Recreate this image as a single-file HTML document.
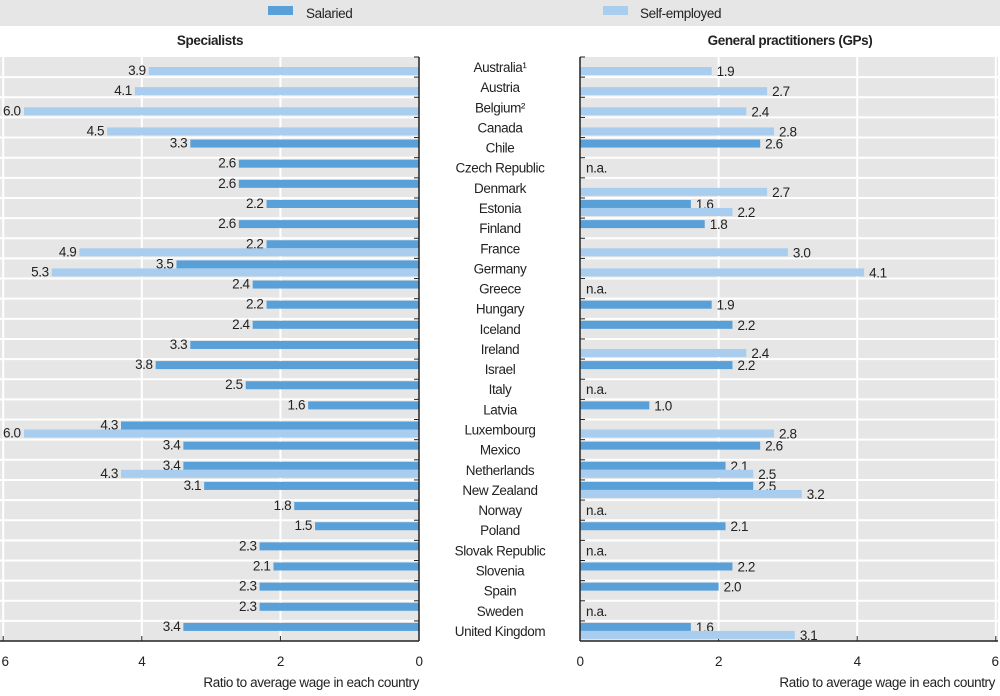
<!DOCTYPE html>
<html><head><meta charset="utf-8"><style>
body{margin:0;background:#fff;width:1000px;height:691px;overflow:hidden;font-family:"Liberation Sans",sans-serif;}
svg text{font-family:"Liberation Sans",sans-serif;font-size:13.5px;letter-spacing:-0.4px;fill:#222;}
</style></head><body>
<svg id="chart" width="1000" height="691">
<rect x="0" y="0" width="1000" height="26" fill="#e6e6e6"/>
<g><rect x="268" y="6" width="25" height="9" fill="#5aa0d8"/><text x="306" y="18">Salaried</text></g>
<g><rect x="603" y="6" width="25" height="9" fill="#a9cdee"/><text x="640" y="18">Self-employed</text></g>
<text x="210" y="45" text-anchor="middle" font-weight="bold">Specialists</text>
<text x="790" y="45" text-anchor="middle" font-weight="bold">General practitioners (GPs)</text>
<g id="left"></g>
<g id="right"></g>
<g id="labels"></g>
</svg>
<script>
const countries=["Australia¹","Austria","Belgium²","Canada","Chile","Czech Republic","Denmark","Estonia","Finland","France","Germany","Greece","Hungary","Iceland","Ireland","Israel","Italy","Latvia","Luxembourg","Mexico","Netherlands","New Zealand","Norway","Poland","Slovak Republic","Slovenia","Spain","Sweden","United Kingdom"];
const specSalaried=[null,null,null,null,3.3,2.6,2.6,2.2,2.6,2.2,3.5,2.4,2.2,2.4,3.3,3.8,2.5,1.6,4.3,3.4,3.4,3.1,1.8,1.5,2.3,2.1,2.3,2.3,3.4];
const specSelf=[3.9,4.1,6.0,4.5,null,null,null,null,null,4.9,5.3,null,null,null,null,null,null,null,6.0,null,4.3,null,null,null,null,null,null,null,null];
const gpSalaried=[null,null,null,null,2.6,null,null,1.6,1.8,null,null,null,1.9,2.2,null,2.2,null,1.0,null,2.6,2.1,2.5,null,2.1,null,2.2,2.0,null,1.6];
const gpSelf=[1.9,2.7,2.4,2.8,null,null,2.7,2.2,null,3.0,4.1,null,null,null,2.4,null,null,null,2.8,null,2.5,3.2,null,null,null,null,null,null,3.1];
const ticks=[0,2,4,6];
const NS="http://www.w3.org/2000/svg";
const top0=57,rowH=20.14,axisY=641,unit=69.3;
const rowY=i=>top0+i*rowH;
const lx=v=>419-v*unit;
const rx=v=>580+v*unit;
function mk(p,tag,a,txt){const e=document.createElementNS(NS,tag);for(const k in a)e.setAttribute(k,a[k]);if(txt!==undefined)e.textContent=txt;p.appendChild(e);return e;}
function panel(g,x0,x1,sx,sal,self,left,nm){
  const bg=mk(g,'rect',{x:Math.min(x0,x1),y:top0,width:Math.abs(x1-x0),height:axisY-top0,fill:'#e6e6e6'});
  
  
  ticks.forEach(t=>{if(t>0){const l=mk(g,'line',{x1:sx(t),x2:sx(t),y1:top0,y2:axisY,stroke:'#fff','stroke-width':2});
    
    }
    const tx=Math.min(Math.max(sx(t),5),995);
    const tl=mk(g,'text',{x:tx,y:666,'text-anchor':'middle'},String(t));
    
    
    const tk=mk(g,'line',{x1:sx(t),x2:sx(t),y1:axisY-5,y2:axisY,stroke:'#222'});
    
    });
  for(let i=1;i<countries.length;i++){const l=mk(g,'line',{x1:Math.min(x0,x1),x2:Math.max(x0,x1),y1:rowY(i),y2:rowY(i),stroke:'#fff','stroke-width':2});
    
    }
  countries.forEach((c,i)=>{
    const y=rowY(i);
    [[sal[i],y+2,'#5aa0d8','salaried'],[self[i],y+10,'#a9cdee','self-employed']].forEach(([v,by,col,kind])=>{
      if(v===null)return;
      let x=sx(v);
      let clip=false;
      if(left&&x<26){x=24;clip=true;}
      const b=mk(g,'rect',{x:Math.min(x,sx(0)),y:by,width:Math.abs(x-sx(0)),height:8,fill:col});
      
      
      const t=mk(g,'text',clip?{x:3,y:by+8}:(left?{x:x-3,y:by+8,'text-anchor':'end'}:{x:x+5,y:by+9}),v.toFixed(1));
      
      
    });
    if(sal[i]===null&&self[i]===null){
      const t=mk(g,'text',left?{x:sx(0)-4,y:y+15,'text-anchor':'end'}:{x:sx(0)+6,y:y+15},'n.a.');
      
      
    }
    const tk=mk(g,'line',{x1:sx(0),x2:sx(0)+(left?-5:5),y1:y,y2:y,stroke:'#222'});
    
    
  });
  const va=mk(g,'line',{x1:sx(0),x2:sx(0),y1:top0,y2:axisY,stroke:'#222','stroke-width':1.5});
  
  
  const ha=mk(g,'line',{x1:Math.min(x0,x1),x2:Math.max(x0,x1),y1:axisY,y2:axisY,stroke:'#222','stroke-width':1.5});
  
  
  const at=mk(g,'text',{x:left?419:995,y:687,'text-anchor':'end'},'Ratio to average wage in each country');
  
  
}
panel(document.getElementById('left'),0,419,lx,specSalaried,specSelf,true,'specialists');
panel(document.getElementById('right'),580,998,rx,gpSalaried,gpSelf,false,'gps');
const lg=document.getElementById('labels');
countries.forEach((c,i)=>{const t=mk(lg,'text',{x:500,y:rowY(i)+15,'text-anchor':'middle'},c);
  
  });
</script>
</body></html>
